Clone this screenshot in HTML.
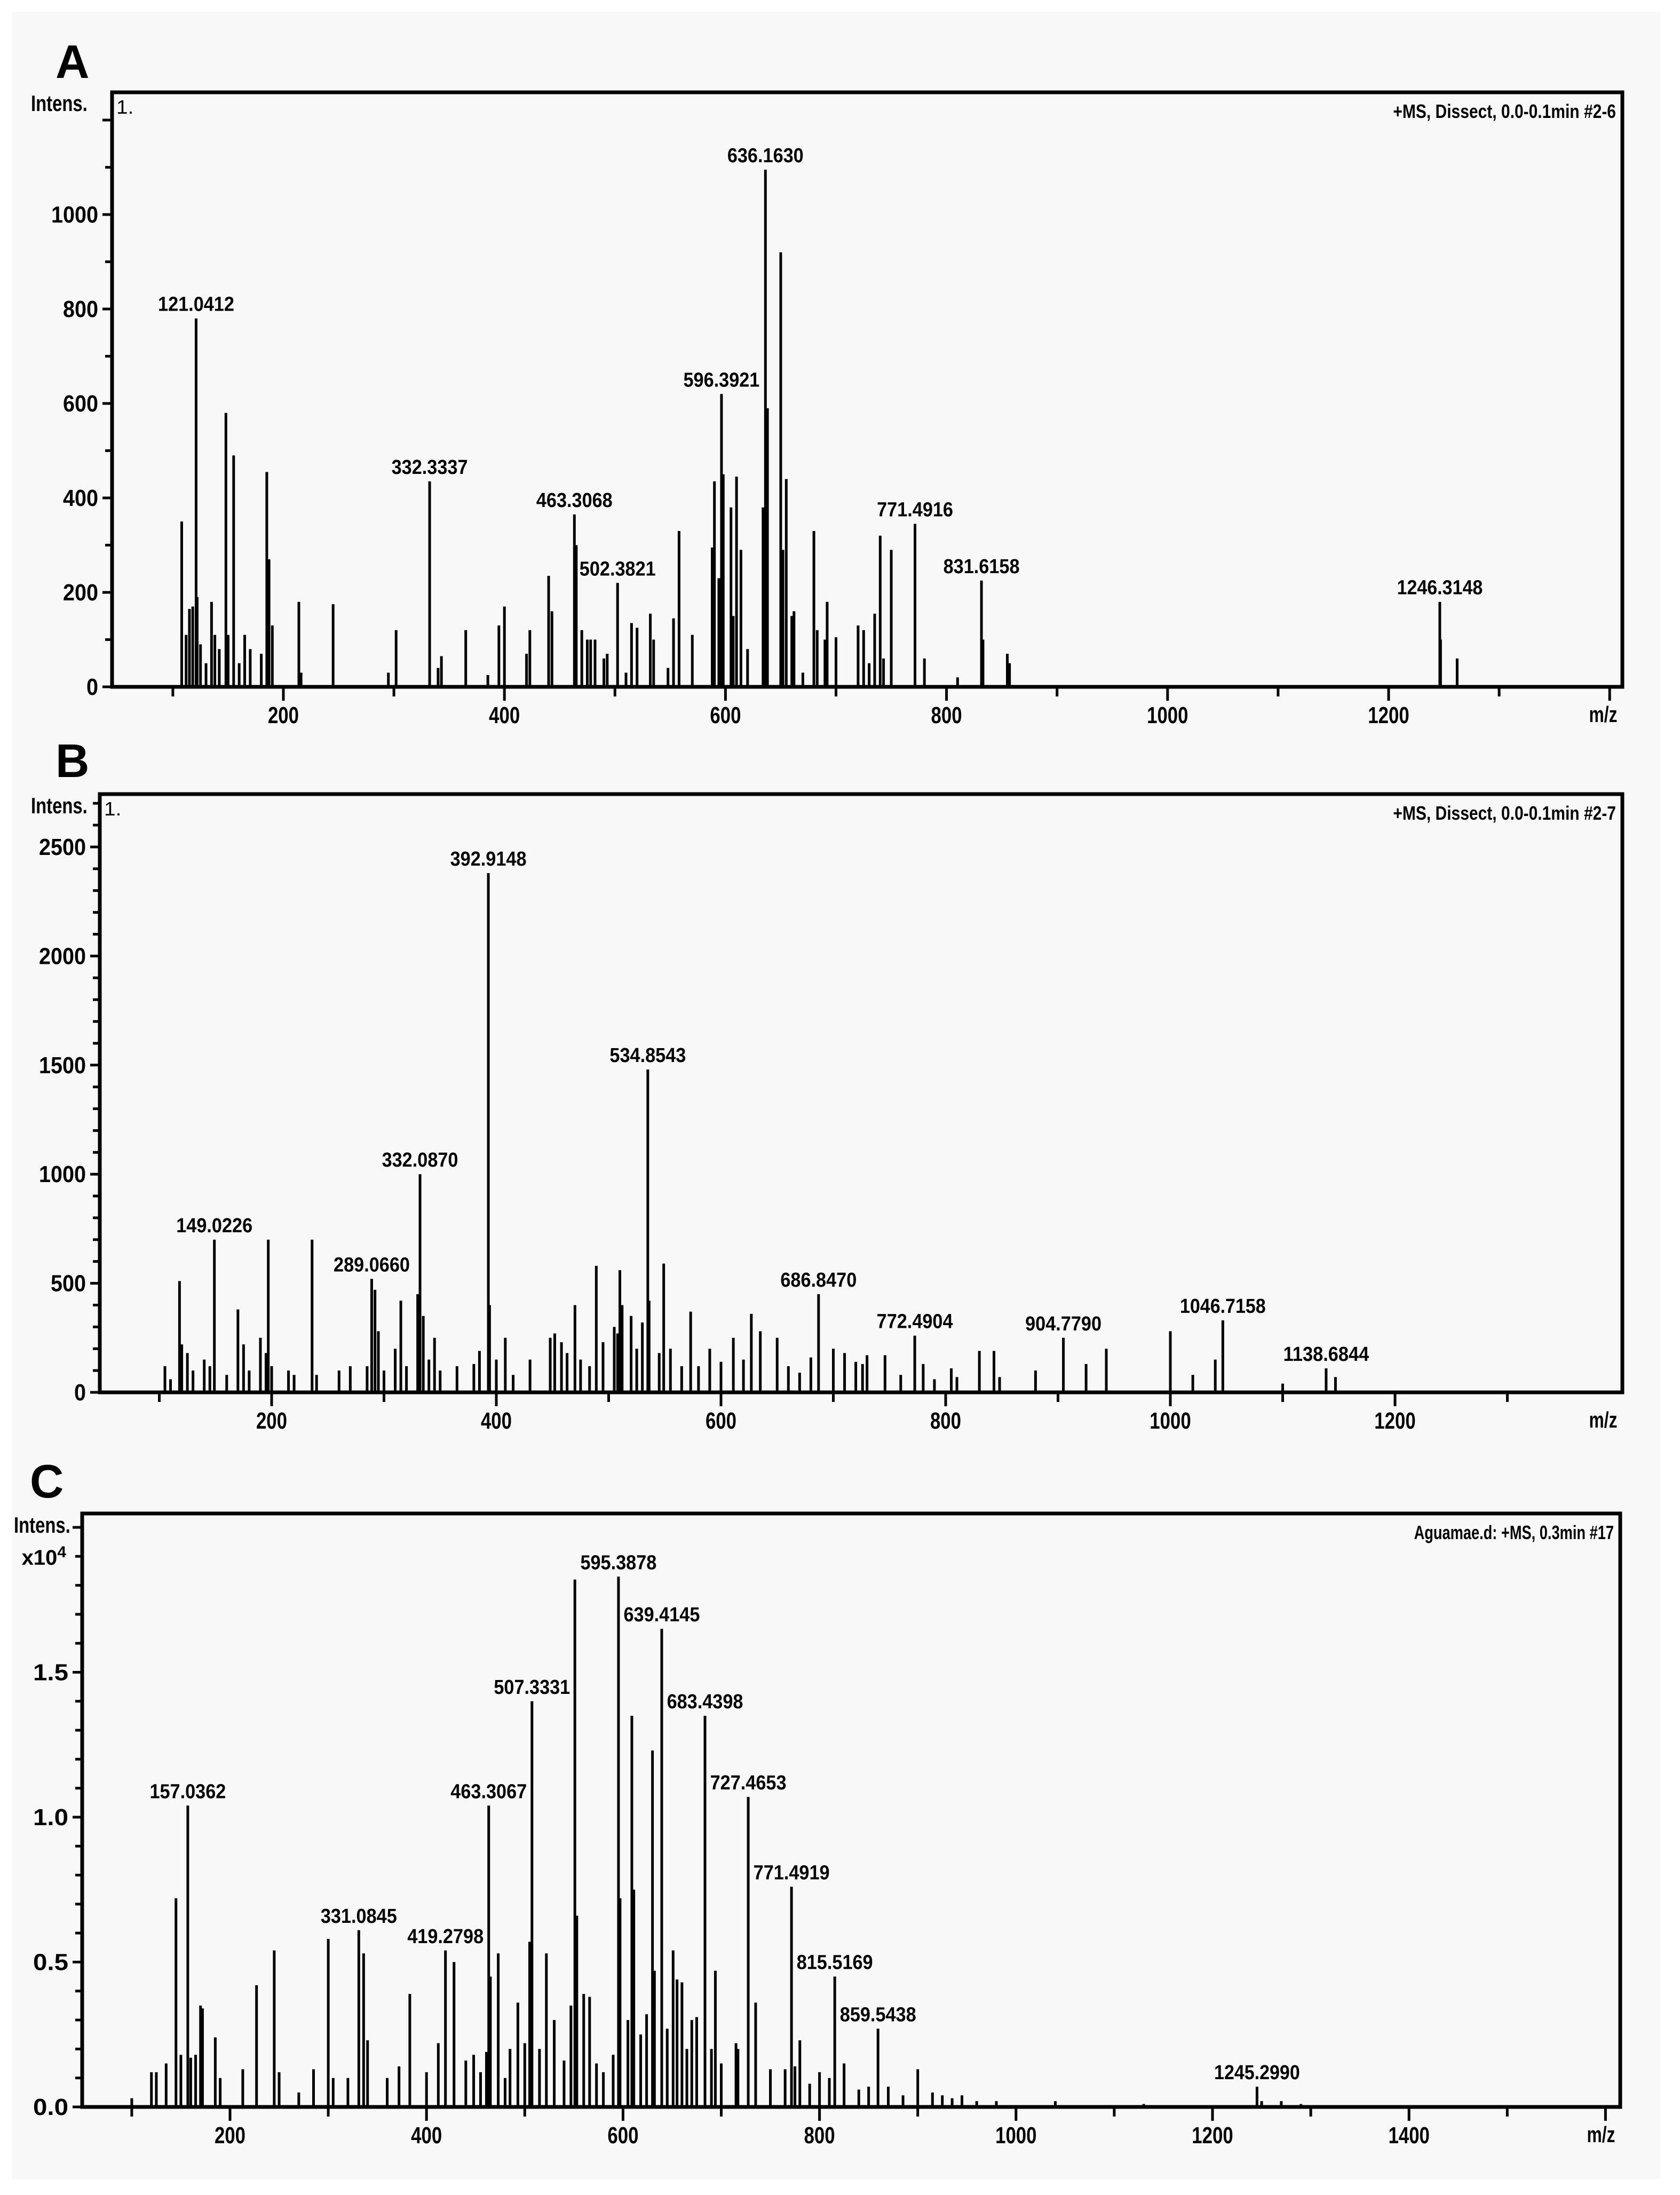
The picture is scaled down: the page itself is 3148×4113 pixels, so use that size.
<!DOCTYPE html>
<html><head><meta charset="utf-8"><title>Mass spectra A, B, C</title>
<style>
html,body{margin:0;padding:0;background:#fff;}
svg{display:block;}
text{font-family:"Liberation Sans Narrow","Liberation Sans",sans-serif;fill:#000;}
</style></head>
<body>
<svg id="fig" xmlns="http://www.w3.org/2000/svg" width="3148" height="4113">
<rect x="23" y="22" width="3089" height="4061" fill="#f8f8f8"/>
</svg>
<script>
// ---------- Panel A data ----------
const mzA = [108,112,115,118,122,125,130,135,138,142,148,150,155,160,165,170,180,185,187,190,214,216,245,295,302,340,343,365,385,395,400,420,423,440,443,465,470,475,478,482,490,493,510,515,520,532,535,548,553,558,570,588,590,594,598,605,607,610,614,620,634,638,650,652,655,660,662,670,680,683,690,692,700,720,725,730,735,740,743,750,780,810,833,855,857,1247,1262];
const intA = [350,110,165,170,190,90,50,180,110,80,580,110,490,50,110,80,70,455,270,130,180,30,175,30,120,40,65,120,25,130,170,70,120,235,160,300,120,100,100,100,60,70,30,135,125,155,100,40,145,330,110,295,435,230,450,380,150,445,290,80,380,590,920,290,440,150,160,30,330,120,100,180,105,130,120,50,155,320,60,290,60,20,100,70,50,100,60];
const labMzA = [121.0412,332.3337,463.3068,502.3821,596.3921,636.1630,771.4916,831.6158,1246.3148];
const labIntA = [780,435,365,220,620,1095,345,225,180];
const labTxtA = ["121.0412","332.3337","463.3068","502.3821","596.3921","636.1630","771.4916","831.6158","1246.3148"];
const yTicksA = ["0","200","400","600","800","1000"];
const xTicksA = ["200","400","600","800","1000","1200"];

// ---------- Panel B data ----------
const mzB = [105,110,118,120,125,130,140,145,160,170,175,180,190,195,197,200,215,220,236,240,260,270,285,292,295,300,310,315,320,330,335,340,345,350,365,380,385,394,400,408,415,430,448,452,458,463,470,475,483,489,495,505,508,510,512,520,525,530,536,545,549,555,565,573,580,590,600,611,620,627,635,650,660,670,680,700,710,720,726,730,746,760,780,790,805,810,830,843,848,880,925,943,1000,1020,1040,1100,1147];
const intB = [120,60,510,220,180,100,150,120,80,380,220,100,250,180,700,120,100,80,700,80,100,120,120,470,280,100,200,420,120,450,350,150,250,100,120,130,190,400,150,250,80,150,250,270,230,180,400,150,120,580,230,300,270,560,400,350,200,320,420,180,590,200,120,370,120,200,140,250,150,360,280,250,120,90,160,200,180,140,130,170,170,80,130,60,110,70,190,190,70,100,130,200,280,80,150,40,70];
const labMzB = [149.0226,289.0660,332.0870,392.9148,534.8543,686.8470,772.4904,904.7790,1046.7158,1138.6844];
const labIntB = [700,520,1000,2380,1480,450,260,250,330,110];
const labTxtB = ["149.0226","289.0660","332.0870","392.9148","534.8543","686.8470","772.4904","904.7790","1046.7158","1138.6844"];
const yTicksB = ["0","500","1000","1500","2000","2500"];
const xTicksB = ["200","400","600","800","1000","1200"];

// ---------- Panel C data (x10^4) ----------
const mzC = [100,120,125,135,145,150,160,165,170,172,185,190,213,227,245,250,270,285,300,305,320,336,340,360,372,383,400,412,428,440,448,455,461,465,473,480,485,493,500,505,515,522,530,540,547,551,553,560,566,573,580,590,597,605,609,611,618,624,630,632,645,651,655,660,665,670,675,690,694,700,715,717,735,750,765,775,780,790,800,810,825,840,850,870,885,900,915,925,935,945,960,980,1040,1130,1250,1270,1290];
const intC = [0.03,0.12,0.12,0.15,0.72,0.18,0.17,0.18,0.35,0.34,0.24,0.10,0.13,0.42,0.54,0.12,0.05,0.13,0.58,0.10,0.10,0.53,0.23,0.10,0.14,0.39,0.12,0.22,0.50,0.16,0.18,0.12,0.19,0.45,0.53,0.10,0.20,0.36,0.22,0.57,0.20,0.53,0.30,0.16,0.35,1.82,0.66,0.39,0.38,0.15,0.12,0.18,0.72,0.30,1.35,0.75,0.25,0.32,1.23,0.47,0.27,0.54,0.44,0.43,0.20,0.30,0.31,0.20,0.47,0.15,0.22,0.20,0.36,0.13,0.13,0.14,0.23,0.08,0.12,0.10,0.15,0.06,0.07,0.07,0.04,0.13,0.05,0.04,0.03,0.04,0.02,0.02,0.02,0.01,0.02,0.02,0.01];
const labMzC = [157.0362,331.0845,419.2798,463.3067,507.3331,595.3878,639.4145,683.4398,727.4653,771.4919,815.5169,859.5438,1245.2990];
const labIntC = [1.04,0.61,0.54,1.04,1.40,1.83,1.65,1.35,1.07,0.76,0.45,0.27,0.07];
const labTxtC = ["157.0362","331.0845","419.2798","463.3067","507.3331","595.3878","639.4145","683.4398","727.4653","771.4919","815.5169","859.5438","1245.2990"];
const yTicksC = ["0.0","0.5","1.0","1.5"];
const xTicksC = ["200","400","600","800","1000","1200","1400"];

const NS = "http://www.w3.org/2000/svg";
const svg = document.getElementById('fig');
function mk(tag, attrs, parent){
  const e = document.createElementNS(NS, tag);
  for (const k in attrs) e.setAttribute(k, attrs[k]);
  (parent||svg).appendChild(e);
  return e;
}
function txt(str, x, y, size, anchor, weight, charW, parent){
  const t = mk('text', {x:x, y:y, 'font-size':size, 'text-anchor':anchor, 'font-weight':weight}, parent);
  t.textContent = str;
  t.setAttribute('textLength', (str.length*charW*size).toFixed(1));
  t.setAttribute('lengthAdjust','spacingAndGlyphs');
  return t;
}

function panel(p){
  const g = mk('g', {});
  
  
  const X = m => p.x200 + (m-200)*p.kx;
  const Y = v => p.y0 - v*p.ky;
  const L = txt(p.letter, p.letterX, p.letterY, 88, 'start', 'bold', 0.72, g);
  L.setAttribute('font-family', '"Liberation Sans", sans-serif');
  
  
  const pg = mk('g', {}, g);
  
  
  function peak(m, v){
    const x = X(m);
    const l = mk('line', {x1:x, x2:x, y1:p.y0, y2:Y(v), stroke:'#000', 'stroke-width':5}, pg);
    
    
  }
  p.mz.forEach((m,i)=>peak(m, p.int[i]));
  p.labMz.forEach((m,i)=>{
    peak(m, p.labInt[i]);
    const t = txt(p.labTxt[i], X(m), Y(p.labInt[i]) - 14, 38, 'middle', '600', 0.47, g);
    
    
  });
  const fr = mk('rect', {x:p.l, y:p.t, width:p.r-p.l, height:p.y0-p.t, fill:'none', stroke:'#000', 'stroke-width':7}, g);
  
  
  for (let k=0; k<=p.yMinorCount; k++){
    const v = k*p.yMinor, y = Y(v);
    const major = (k % p.yMajorEvery) === 0;
    const tk = mk('line', {x1:p.l-(major?18:13), x2:p.l, y1:y, y2:y, stroke:'#000', 'stroke-width':5}, g);
    
    
  }
  p.yTicks.forEach((s,i)=>{
    const t = txt(s, p.l-26, Y(i*p.yMinor*p.yMajorEvery)+15, 44, 'end', 'bold', 0.5, g);
    
    
  });
  for (let m=100; X(m) <= p.r-10; m+=100){
    const major = (m % 200) === 0;
    const x = X(m);
    const tk = mk('line', {x1:x, x2:x, y1:p.y0, y2:p.y0+(major?26:18), stroke:'#000', 'stroke-width':5}, g);
    
    
  }
  p.xTicks.forEach((s,i)=>{
    const t = txt(s, X(200+i*200), p.y0+68, 44, 'middle', 'bold', 0.44, g);
    
    
  });
  const mzl = txt('m/z', p.r-36, p.y0+66, 42, 'middle', 'bold', 0.42, g);
  
  
  const yl = txt('Intens.', p.intensX, p.intensY, 42, 'start', 'bold', 0.36, g);
  
  
  if (p.exp){
    const e = mk('text', {x:p.l-30, y:p.intensY+60, 'font-size':40, 'text-anchor':'end', 'font-weight':'bold'}, g);
    e.innerHTML = 'x10<tspan dy="-14" font-size="30">4</tspan>';
    
    
  } else {
    const one = txt('1.', p.l+8, p.t+40, 36, 'start', 'normal', 0.45, g);
    
    
  }
  const info = txt(p.info, p.r-12, p.t+48, 36, 'end', 'bold', 0.40, g);
  
  
}

panel({name:'panel-a', letter:'A', letterX:104, letterY:146,
  mz:mzA, int:intA, labMz:labMzA, labInt:labIntA, labTxt:labTxtA, yTicks:yTicksA, xTicks:xTicksA,
  x200:531, kx:2.071, y0:1287, ky:0.885, l:210, t:173, r:3040,
  yMinor:100, yMinorCount:12, yMajorEvery:2, intensX:58, intensY:208,
  info:'+MS, Dissect, 0.0-0.1min #2-6'});
panel({name:'panel-b', letter:'B', letterX:104, letterY:1456,
  mz:mzB, int:intB, labMz:labMzB, labInt:labIntB, labTxt:labTxtB, yTicks:yTicksB, xTicks:xTicksB,
  x200:509, kx:2.105, y0:2609, ky:0.4088, l:187, t:1488, r:3040,
  yMinor:100, yMinorCount:27, yMajorEvery:5, intensX:58, intensY:1524,
  info:'+MS, Dissect, 0.0-0.1min #2-7'});
panel({name:'panel-c', letter:'C', letterX:56, letterY:2806,
  mz:mzC, int:intC, labMz:labMzC, labInt:labIntC, labTxt:labTxtC, yTicks:yTicksC, xTicks:xTicksC,
  x200:431, kx:1.841, y0:3948, ky:543, l:154, t:2836, r:3036,
  yMinor:0.1, yMinorCount:20, yMajorEvery:5, intensX:26, intensY:2872, exp:true,
  info:'Aguamae.d: +MS, 0.3min #17'});
</script>
</body></html>
